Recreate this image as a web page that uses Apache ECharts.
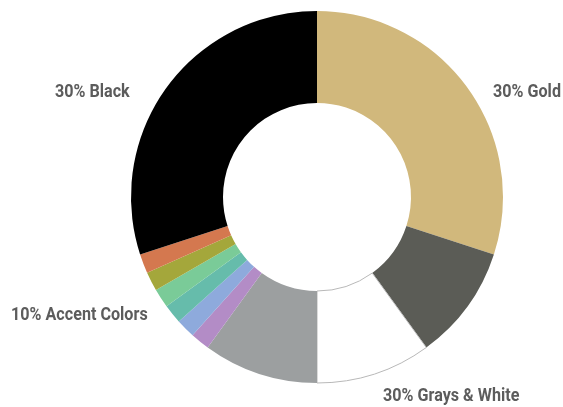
<!DOCTYPE html>
<html><head><meta charset="utf-8">
<script src="https://cdn.jsdelivr.net/npm/echarts@6/dist/echarts.min.js"></script>
<style>html,body{margin:0;padding:0;background:#fff}#c{width:563px;height:407px}</style>
</head><body><div id="c"></div>
<script>
var categories = ['Gold','Dark Gray','White','Gray','Purple','Blue','Teal','Green','Olive','Orange','Black'];
var values = [18, 6, 6, 6, 1, 1, 1, 1, 1, 1, 18];
var colors = ['#d1b87c','#5b5c56','#ffffff','#9c9fa0','#b38cc6','#8eaadc','#66bcab','#7acb98','#a4a73b','#d4784f','#000000'];
var groupLabels = ['30% Gold','30% Grays & White','10% Accent Colors','30% Black'];
var labelPos = [[493,92.5],[383,396.5],[11,315.5],[55,92.5]];

var chart = echarts.init(document.getElementById('c'), null, {renderer:'canvas'});
var data = categories.map(function(n,i){
  var d = {name:n, value:values[i], itemStyle:{color:colors[i]}};
  if (n === 'White') { d.itemStyle.borderColor = '#b8b8b8'; d.itemStyle.borderWidth = 1; }
  return d;
});
chart.setOption({
  animation:false,
  series:[{
    type:'pie', center:[317,197], radius:[94,186], startAngle:90, clockwise:true,
    label:{show:false}, labelLine:{show:false}, emphasis:{disabled:true},
    silent:true, data:data
  }],
  graphic: groupLabels.map(function(t,i){
    return {type:'text', x:labelPos[i][0], y:labelPos[i][1], scaleX:0.85,
      style:{text:t, fill:'#5c5c5c', align:'left', verticalAlign:'middle',
        font:'bold 19px Roboto, sans-serif'}};
  })
});
</script></body></html>
